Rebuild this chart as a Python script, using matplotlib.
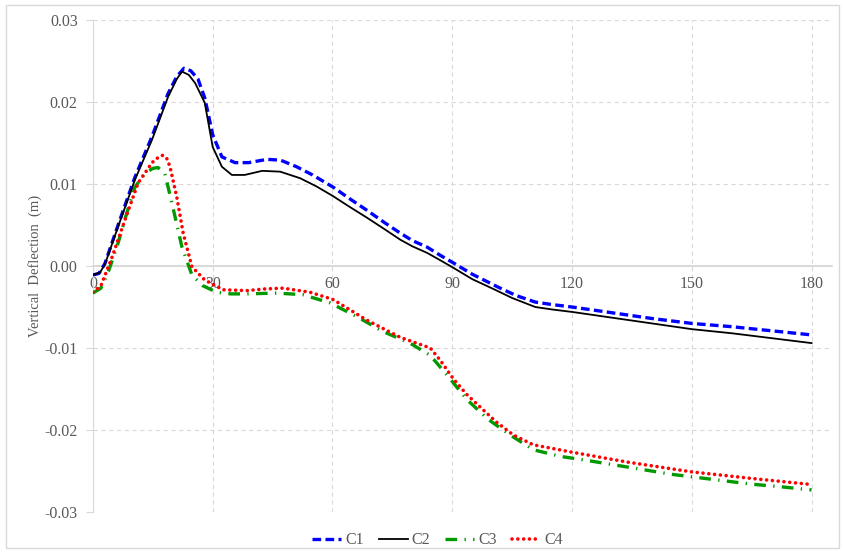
import numpy as np
import matplotlib.pyplot as plt
from matplotlib.patches import Rectangle

plt.rcParams['font.family'] = ['Liberation Serif', 'DejaVu Serif']

# C1 - blue dashed
x1 = [0, 1.5, 3, 6.3, 10.5, 14.8, 18.8, 21, 22.8, 24.5, 26.3, 28, 30, 32.3, 35.6,
      39, 43.6, 47, 51, 55, 60.2, 64, 68.6, 73, 77, 80, 83.7, 87, 90.2, 95,
      102, 106, 110.8, 115, 120, 130, 140, 150, 160, 170, 180]
y1 = [-0.0011, -0.0009, 0.0003, 0.0050, 0.0108, 0.0158, 0.0210, 0.0231, 0.0241, 0.0238,
      0.0228, 0.0205, 0.0160, 0.0133, 0.0126, 0.0126, 0.0130, 0.0129, 0.0121, 0.0111,
      0.0096, 0.0083, 0.0068, 0.0053, 0.0040, 0.0031, 0.0023, 0.0013, 0.0004, -0.0010,
      -0.0027, -0.0036, -0.0044, -0.0047, -0.0050, -0.0057, -0.0064, -0.0070, -0.0074,
      -0.0079, -0.0084]

# C2 - black solid
x2 = [0, 1.75, 3, 6.3, 10.5, 14.8, 18.8, 21, 22.3, 24, 25.6, 28, 30, 32.3, 34.8,
      38, 42.4, 46.9, 51.9, 56, 60.2, 64, 68.6, 73, 77, 80, 83.7, 87, 90.2, 95,
      100.3, 105, 110.8, 115, 120, 130, 140, 150, 160, 170, 180]
y2 = [-0.0011, -0.0008, 0.0002, 0.0048, 0.0105, 0.0154, 0.0206, 0.0228, 0.0237, 0.0233,
      0.0223, 0.0199, 0.0145, 0.0121, 0.0111, 0.0111, 0.0116, 0.0115, 0.0107, 0.0097,
      0.0085, 0.0073, 0.0059, 0.0045, 0.0032, 0.0024, 0.0016, 0.0007, -0.0002, -0.0016,
      -0.0028, -0.0039, -0.0050, -0.0053, -0.0056, -0.0063, -0.0070, -0.0077, -0.0082,
      -0.0088, -0.0094]

# C3 - green dash-dot
x3 = [0, 2, 4, 6.3, 8.5, 10.5, 13, 15, 16.3, 18, 20, 22.3, 24.8, 27.5, 31,
      34.5, 38.6, 46, 52.6, 59.4, 66.2, 72.7, 79.4, 84.5, 88.7, 93.7, 99, 104.5,
      110.3, 117, 125, 135, 145, 155, 165, 172, 180]
y3 = [-0.0033, -0.0027, -0.0005, 0.0028, 0.0065, 0.0096, 0.0113, 0.0119, 0.0120, 0.0113,
      0.0072, 0.0023, -0.0011, -0.0024, -0.0032, -0.0034, -0.0034, -0.0033, -0.0035,
      -0.0045, -0.0062, -0.0080, -0.0094, -0.0109, -0.0133, -0.0163, -0.0187, -0.0206,
      -0.0224, -0.0232, -0.0238, -0.0246, -0.0254, -0.0260, -0.0266, -0.0269, -0.0273]

# C4 - red dotted
x4 = [0, 2, 4.8, 8, 11.3, 14.8, 16.5, 17.5, 18.5, 19.3, 21, 22.6, 24.8, 28, 32.6,
      38.6, 43, 47.6, 54.4, 60.2, 68.6, 77, 84.5, 87, 90.2, 93.5, 97, 101, 105.3,
      110.3, 120, 133.8, 150, 165, 179.2]
y4 = [-0.0032, -0.0024, 0.0011, 0.0056, 0.0101, 0.0126, 0.0133, 0.0135, 0.0131, 0.0121,
      0.0084, 0.0040, -0.0001, -0.0017, -0.0029, -0.0030, -0.0028, -0.0027, -0.0032,
      -0.0041, -0.0066, -0.0087, -0.0100, -0.0115, -0.0137, -0.0156, -0.0172, -0.0190,
      -0.0206, -0.0218, -0.0227, -0.0239, -0.0251, -0.0259, -0.0266]

x_ticks = [0, 30, 60, 90, 120, 150, 180]
y_ticks = [-0.03, -0.02, -0.01, 0.00, 0.01, 0.02, 0.03]

fig = plt.figure(figsize=(8.45, 5.53), dpi=100)
ax = fig.add_axes([0.110, 0.074, 0.875, 0.890])

grid_c = '#d9d9d9'
text_c = '#595959'

ax.plot(x1, y1, color='#0000ff', lw=2.4, linestyle=(0, (2.6, 1.3)), label='C1', zorder=3)
ax.plot(x2, y2, color='black', lw=1.3, linestyle='-', label='C2', zorder=4)
ax.plot(x3, y3, color='#009900', lw=2.4, linestyle=(0, (3.5, 2.2, 0.4, 2.2)), label='C3', zorder=3)
ax.plot(x4, y4, color='#ff0000', lw=2.6, linestyle=(0, (0.01, 1.6)),
        dash_capstyle='round', label='C4', zorder=5)

ax.set_xlim(0, 185.2)
ax.set_ylim(-0.03, 0.03)
ax.set_xticks(x_ticks)
ax.set_yticks(y_ticks)
ax.set_yticklabels(['%.2f' % v for v in y_ticks])

ax.grid(True, color=grid_c, linestyle=(0, (4, 3)), lw=0.8)
ax.axhline(0, color=grid_c, lw=1.2, zorder=1)

ax.spines['top'].set_color('none')
ax.spines['right'].set_color('none')
ax.spines['left'].set_color(grid_c)
ax.spines['bottom'].set_position(('data', 0))
ax.spines['bottom'].set_color(grid_c)
ax.spines['bottom'].set_linewidth(1.2)

ax.tick_params(axis='x', length=0, pad=7, labelsize=11.5, labelcolor=text_c)
ax.tick_params(axis='y', length=5, color=grid_c, pad=6, labelsize=11.5, labelcolor=text_c)

ax.set_ylabel('Vertical  Deflection  (m)', fontsize=10.5, color=text_c, labelpad=2)

leg = fig.legend(loc='center', bbox_to_anchor=(0.518, 0.023), ncol=4, frameon=False,
                 fontsize=11.5, handlelength=1.8, columnspacing=0.95, handletextpad=0.25)
for t in leg.get_texts():
    t.set_color(text_c)

fig.patches.append(Rectangle((0.007, 0.009), 0.986, 0.982, transform=fig.transFigure,
                             fill=False, edgecolor=grid_c, lw=1.0))

fig.savefig('out.png', dpi=100)
